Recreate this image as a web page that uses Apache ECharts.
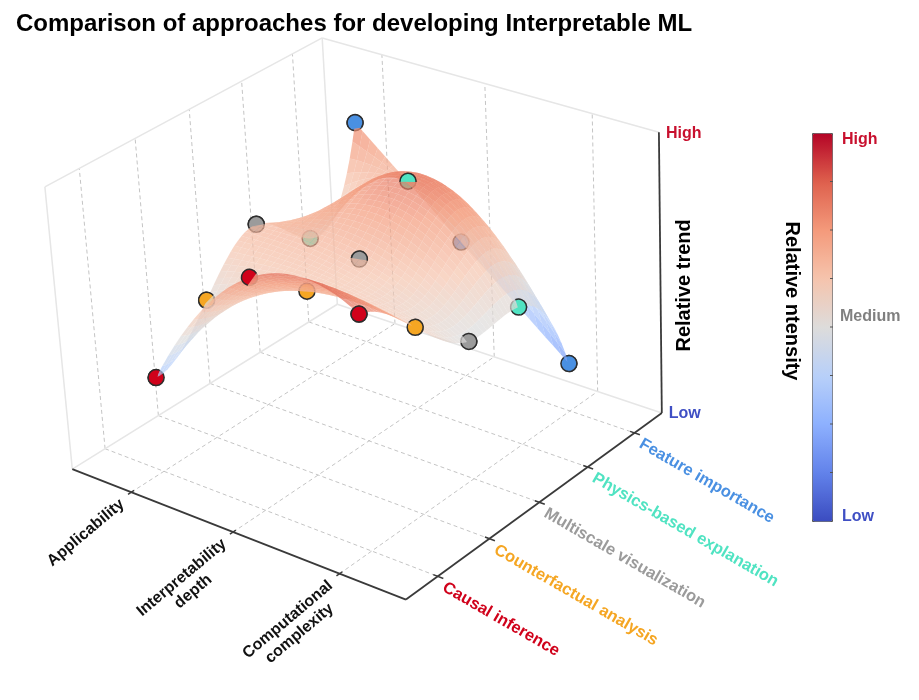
<!DOCTYPE html>
<html><head><meta charset="utf-8">
<script src="https://cdn.jsdelivr.net/npm/echarts@6/dist/echarts.min.js"></script>
<style>html,body{margin:0;padding:0;background:#fff}#chart{width:919px;height:700px}</style>
</head><body><div id="chart"></div>
<script>
// ---------------- data ----------------
const categories = ['Applicability', 'Interpretability\ndepth', 'Computational\ncomplexity'];
const methods = ['Causal inference', 'Counterfactual analysis', 'Multiscale visualization', 'Physics-based explanation', 'Feature importance'];
const causalInference = [0.34, 0.815, 0.815];
const counterfactualAnalysis = [0.50, 0.655, 0.655];
const multiscaleVisualization = [0.66, 0.655, 0.49];
const physicsBasedExplanation = [0.50, 0.82, 0.495];
const featureImportance = [0.815, 0.495, 0.175];
const trendTicks = ['Low', 'High'];          // relative trend axis: 0 .. 1
const intensityTicks = ['Low', 'Medium', 'High'];

// ---------------- styles ----------------
const values = [causalInference, counterfactualAnalysis, multiscaleVisualization, physicsBasedExplanation, featureImportance];
const methodColors = ['#D0021B', '#F5A623', '#9B9B9B', '#50E3C2', '#4A90E2'];
const coolwarm = ['#3b4cc0', '#6282ea', '#8db0fe', '#b8d0f9', '#dddcdb', '#f5c4ad', '#f49a7b', '#de604d', '#b40426'];
const FONT = '"Liberation Sans", Arial, Helvetica, sans-serif';
const nX = categories.length, nY = methods.length;
const PAD = 0.6;
const X0 = -PAD, X1 = nX - 1 + PAD, Y0 = -PAD, Y1 = nY - 1 + PAD;
const Z_MIN = 0, Z_MAX = 1;
const SURF_OPACITY = 0.7, MARKER_R = 8;

function gauss(A, b) {
  const n = b.length; const M = A.map((r, i) => r.slice().concat([b[i]]));
  for (let c = 0; c < n; c++) {
    let p = c;
    for (let r = c + 1; r < n; r++) if (Math.abs(M[r][c]) > Math.abs(M[p][c])) p = r;
    const tmp = M[c]; M[c] = M[p]; M[p] = tmp;
    for (let r = 0; r < n; r++) {
      if (r === c) continue;
      const f = M[r][c] / M[c][c];
      for (let k = c; k <= n; k++) M[r][k] -= f * M[c][k];
    }
  }
  return M.map((r, i) => r[n] / r[i]);
}
// camera of the 3D box, calibrated on the box corners and axis ticks of the view
const calib = [
  [X0, Y0, 0, 72, 470], [X1, Y0, 0, 406, 600], [X1, Y1, 0, 661, 413], [X0, Y1, 0, 337, 304],
  [X0, Y0, 1, 45, 187], [X0, Y1, 1, 322, 38], [X1, Y1, 1, 659, 132],
  [0, Y0, 0, 130, 491], [1, Y0, 0, 233, 532], [2, Y0, 0, 341, 574],
  [X1, 0, 0, 437.5, 576], [X1, 1, 0, 489, 538], [X1, 2, 0, 539, 502], [X1, 3, 0, 588, 468], [X1, 4, 0, 635, 433],
  [X0, 0, 0, 107, 448], [X0, 1, 0, 157, 417], [X0, 2, 0, 210, 383], [X0, 3, 0, 260, 352], [X0, 4, 0, 310, 322]
];
function solveCamera(pts) {
  const A = [], b = [];
  for (const [X, Y, Z, u, v] of pts) {
    const U = (u - 460) / 300, V = (v - 350) / 300;
    A.push([X, Y, Z, 1, 0, 0, 0, 0, -U * X, -U * Y, -U * Z]); b.push(U);
    A.push([0, 0, 0, 0, X, Y, Z, 1, -V * X, -V * Y, -V * Z]); b.push(V);
  }
  const n = 11, N = [], r = [];
  for (let i = 0; i < n; i++) { N.push(new Array(n).fill(0)); r.push(0); }
  for (let k = 0; k < A.length; k++) for (let i = 0; i < n; i++) {
    r[i] += A[k][i] * b[k];
    for (let j = 0; j < n; j++) N[i][j] += A[k][i] * A[k][j];
  }
  return gauss(N, r);
}
const P = solveCamera(calib);
function proj(x, y, z) {
  const w = P[8] * x + P[9] * y + P[10] * z + 1;
  return [(P[0] * x + P[1] * y + P[2] * z + P[3]) / w * 300 + 460, (P[4] * x + P[5] * y + P[6] * z + P[7]) / w * 300 + 350, w];
}
const CAM = gauss([[P[0], P[1], P[2]], [P[4], P[5], P[6]], [P[8], P[9], P[10]]], [-P[3], -P[7], -1]);

// smooth surface through the grid values (quadratic across categories, cubic spline across methods)
function splineM(ys) {
  const n = ys.length, A = [], b = [];
  for (let i = 0; i < n; i++) A.push(new Array(n).fill(0));
  A[0][0] = 1; A[0][1] = -2; A[0][2] = 1; b[0] = 0;
  for (let i = 1; i < n - 1; i++) { A[i][i - 1] = 1; A[i][i] = 4; A[i][i + 1] = 1; b[i] = 6 * (ys[i + 1] - 2 * ys[i] + ys[i - 1]); }
  A[n - 1][n - 3] = 1; A[n - 1][n - 2] = -2; A[n - 1][n - 1] = 1; b[n - 1] = 0;
  return gauss(A, b);
}
function splineEval(ys, M, y) {
  const n = ys.length; const k = Math.max(0, Math.min(Math.floor(y), n - 2)); const t = y - k;
  return (1 - t) * ys[k] + t * ys[k + 1] + (Math.pow(1 - t, 3) - (1 - t)) * M[k] / 6 + (t * t * t - t) * M[k + 1] / 6;
}
const cols = []; for (let i = 0; i < nX; i++) cols.push(values.map(r => r[i]));
const colM = cols.map(splineM);
function lagrange(i, x) { let v = 1; for (let k = 0; k < nX; k++) if (k !== i) v *= (x - k) / (i - k); return v; }
function surf(x, y) { let s = 0; for (let i = 0; i < nX; i++) s += lagrange(i, x) * splineEval(cols[i], colM[i], y); return s; }

const cwRgb = coolwarm.map(h => [parseInt(h.slice(1, 3), 16), parseInt(h.slice(3, 5), 16), parseInt(h.slice(5, 7), 16)]);
function cmap(z) {
  let t = (z - Z_MIN) / (Z_MAX - Z_MIN); t = Math.max(0, Math.min(1, t));
  const s = t * (cwRgb.length - 1); const k = Math.min(Math.floor(s), cwRgb.length - 2); const f = s - k;
  const a = cwRgb[k], b = cwRgb[k + 1];
  return 'rgb(' + Math.round(a[0] + (b[0] - a[0]) * f) + ',' + Math.round(a[1] + (b[1] - a[1]) * f) + ',' + Math.round(a[2] + (b[2] - a[2]) * f) + ')';
}

// is a 3D point hidden by the surface as seen from the camera
function rayHidden(bx, by, bz) {
  const d = [CAM[0] - bx, CAM[1] - by, CAM[2] - bz]; const L = Math.hypot(d[0], d[1], d[2]);
  const dn = d.map(v => v / L); let inside = false;
  for (let t = 0; t < Math.min(L, 8); t += 0.01) {
    const px = bx + dn[0] * t, py = by + dn[1] * t, pz = bz + dn[2] * t;
    if (px < 0 || px > nX - 1 || py < 0 || py > nY - 1) { if (inside || t > 0.3) return false; continue; }
    inside = true;
    if (surf(px, py) > pz + 0.002) return true;
  }
  return false;
}
function cross(a, b) { return [a[1] * b[2] - a[2] * b[1], a[2] * b[0] - a[0] * b[2], a[0] * b[1] - a[1] * b[0]]; }
function norm(a) { const l = Math.hypot(a[0], a[1], a[2]); return a.map(v => v / l); }
// visible part of a marker (marker drawn as a camera-facing disk)
function markerVisibility(i, j, z) {
  const v = norm([CAM[0] - i, CAM[1] - j, CAM[2] - z]);
  const e1 = norm(cross(v, [0, 0, 1])), e2 = norm(cross(e1, v));
  const c = proj(i, j, z), eps = 1e-3;
  const pa = proj(i + e1[0] * eps, j + e1[1] * eps, z + e1[2] * eps), pb = proj(i + e2[0] * eps, j + e2[1] * eps, z + e2[2] * eps);
  const a = [(pa[0] - c[0]) / eps, (pa[1] - c[1]) / eps], b = [(pb[0] - c[0]) / eps, (pb[1] - c[1]) / eps];
  const det = a[0] * b[1] - a[1] * b[0];
  const samples = [[0, 0, 0.3]];
  [2.5, 5, 7.2].forEach(r => { for (let k = 0; k < 20; k++) { const th = 2 * Math.PI * k / 20; samples.push([r * Math.cos(th), r * Math.sin(th), r]); } });
  let hw = 0, tw = 0; const hid = [0, 0], vis = [0, 0];
  samples.forEach(([px, py, w]) => {
    const al = (px * b[1] - py * b[0]) / det, be = (a[0] * py - a[1] * px) / det;
    const h = rayHidden(i + al * e1[0] + be * e2[0], j + al * e1[1] + be * e2[1], z + al * e1[2] + be * e2[2]);
    tw += w;
    if (h) { hw += w; hid[0] += px * w; hid[1] += py * w; } else { vis[0] += px * w; vis[1] += py * w; }
  });
  const frac = hw / tw;
  if (frac < 0.06) return { mode: 'full' };
  if (frac > 0.94) return { mode: 'hidden' };
  const m = [hid[0] / hw - vis[0] / (tw - hw), hid[1] / hw - vis[1] / (tw - hw)];
  const mu = Math.atan2(m[1], m[0]);
  let lo = -1, hi = 1;
  for (let it = 0; it < 40; it++) {
    const s = (lo + hi) / 2; const f = (Math.acos(s) - s * Math.sqrt(1 - s * s)) / Math.PI;
    if (f > frac) lo = s; else hi = s;
  }
  return { mode: 'part', mu: mu, alpha: Math.acos((lo + hi) / 2) };
}

// ---------------- series data ----------------
const frameLines = [];
for (let i = 0; i < nX; i++) frameLines.push([i, Y0, 0, i, Y1, 0, 0]);
for (let j = 0; j < nY; j++) frameLines.push([X0, j, 0, X1, j, 0, 0]);
for (let j = 0; j < nY; j++) frameLines.push([X0, j, 0, X0, j, 1, 0]);
for (let i = 0; i < nX; i++) frameLines.push([i, Y1, 0, i, Y1, 1, 0]);
frameLines.push([X0, Y0, 0, X0, Y1, 0, 1], [X0, Y1, 0, X1, Y1, 0, 1], [X0, Y0, 0, X0, Y0, 1, 1],
  [X0, Y1, 0, X0, Y1, 1, 1], [X0, Y0, 1, X0, Y1, 1, 1], [X0, Y1, 1, X1, Y1, 1, 1]);
frameLines.push([X0, Y0, 0, X1, Y0, 0, 2], [X1, Y0, 0, X1, Y1, 0, 2], [X1, Y1, 0, X1, Y1, 1, 2]);
for (let i = 0; i < nX; i++) frameLines.push([i, Y0 - 0.06, 0, i, Y0 + 0.05, 0, 3]);
for (let j = 0; j < nY; j++) frameLines.push([X1 - 0.04, j, 0, X1 + 0.05, j, 0, 3]);
const lineStyles = [
  { stroke: '#c4c4c4', lineWidth: 1, lineDash: [4, 3] },
  { stroke: '#e6e6e6', lineWidth: 1.5 },
  { stroke: '#3a3a3a', lineWidth: 1.8 },
  { stroke: '#3a3a3a', lineWidth: 1.5 }
];
const pts = [];
values.forEach((row, j) => row.forEach((z, i) => pts.push([i, j, z, proj(i, j, z)[2]])));
pts.sort((a, b) => b[3] - a[3]);
const visInfo = pts.map(p => markerVisibility(p[0], p[1], p[2]));

const cells = [];
for (let i = 0; i < nX - 1; i++) for (let j = 0; j < nY - 1; j++) {
  const zc = surf(i + 0.5, j + 0.5);
  cells.push([i, j, zc, proj(i + 0.5, j + 0.5, zc)[2]]);
}
cells.sort((a, b) => b[3] - a[3]);
const labelItems = [];
categories.forEach((c, i) => labelItems.push([0, i]));
methods.forEach((m, j) => labelItems.push([1, j]));
trendTicks.forEach((t, k) => labelItems.push([2, k]));
labelItems.push([3, 0]);

// ---------------- renderers ----------------
const measureCtx = document.createElement('canvas').getContext('2d');
function measure(text, font) { measureCtx.font = font; return measureCtx.measureText(text).width; }
const catFont = 'bold 16px ' + FONT, methFont = 'bold 16.5px ' + FONT, tickFont = 'bold 16px ' + FONT, nameFont = 'bold 20px ' + FONT;
const LH = 18;
function frameRender(params, api) {
  const a = proj(api.value(0), api.value(1), api.value(2)), b = proj(api.value(3), api.value(4), api.value(5));
  const ca = api.coord([a[0], a[1]]), cb = api.coord([b[0], b[1]]);
  return { type: 'line', silent: true, shape: { x1: ca[0], y1: ca[1], x2: cb[0], y2: cb[1] }, style: Object.assign({}, lineStyles[api.value(6)]) };
}
function pointBackRender(params, api) {
  const i = api.value(0), j = api.value(1), z = api.value(2);
  const p = proj(i, j, z); const c = api.coord([p[0], p[1]]);
  return { type: 'circle', shape: { cx: c[0], cy: c[1], r: MARKER_R }, style: { fill: methodColors[j], stroke: '#2d2d2d', lineWidth: 1.5 } };
}
function pointFrontRender(params, api) {
  const i = api.value(0), j = api.value(1), z = api.value(2);
  const p = proj(i, j, z); const c = api.coord([p[0], p[1]]);
  const info = visInfo[params.dataIndex];
  if (info.mode === 'hidden') return null;
  if (info.mode === 'full') return { type: 'circle', shape: { cx: c[0], cy: c[1], r: MARKER_R }, style: { fill: methodColors[j], stroke: '#2d2d2d', lineWidth: 1.5 } };
  const a0 = info.mu + info.alpha, a1 = info.mu + 2 * Math.PI - info.alpha;
  const poly = [];
  for (let k = 0; k <= 40; k++) { const th = a0 + (a1 - a0) * k / 40; poly.push([c[0] + MARKER_R * Math.cos(th), c[1] + MARKER_R * Math.sin(th)]); }
  return {
    type: 'group', children: [
      { type: 'polygon', shape: { points: poly }, style: { fill: methodColors[j] } },
      { type: 'arc', shape: { cx: c[0], cy: c[1], r: MARKER_R, startAngle: a0, endAngle: a1, clockwise: true }, style: { stroke: '#2d2d2d', lineWidth: 1.5, fill: null } }
    ]
  };
}
const SUB = 14;
function surfRender(params, api) {
  const ci = api.value(0), cj = api.value(1);
  const quads = [];
  for (let a = 0; a < SUB; a++) for (let b = 0; b < SUB; b++) {
    const xs = [ci + a / SUB, ci + (a + 1) / SUB], ys = [cj + b / SUB, cj + (b + 1) / SUB];
    const corners = [[xs[0], ys[0]], [xs[1], ys[0]], [xs[1], ys[1]], [xs[0], ys[1]]];
    let zs = 0, ws = 0; const ptsq = [];
    corners.forEach(([x, y]) => { const z = surf(x, y); zs += z; const p = proj(x, y, z); ws += p[2]; ptsq.push(api.coord([p[0], p[1]])); });
    quads.push({ pts: ptsq, z: zs / 4, w: ws / 4 });
  }
  quads.sort((p, q) => q.w - p.w);
  return {
    type: 'group', children: quads.map(q => ({
      type: 'polygon', silent: true, shape: { points: q.pts }, style: { fill: cmap(q.z), opacity: SURF_OPACITY }
    }))
  };
}
function labelRender(params, api) {
  const kind = api.value(0), k = api.value(1);
  if (kind === 0) {
    const t = proj(k, Y0, 0); const c = api.coord([t[0], t[1]]);
    const th = 40 * Math.PI / 180; const d = [Math.cos(th), -Math.sin(th)], n = [Math.sin(th), Math.cos(th)];
    const lines = categories[k].split('\n'); const w1 = measure(lines[0], catFont);
    const R = [c[0] - 9, c[1] + 10];
    const A = [R[0] - d[0] * w1 / 2 - n[0] * LH / 2, R[1] - d[1] * w1 / 2 - n[1] * LH / 2];
    return { type: 'text', x: A[0], y: A[1], rotation: th, style: { text: categories[k], align: 'center', verticalAlign: 'top', font: catFont, fill: '#111', lineHeight: LH } };
  }
  if (kind === 1) {
    const t = proj(X1, k, 0); const c = api.coord([t[0], t[1]]);
    return { type: 'text', x: c[0] + 6, y: c[1] + 10, rotation: -30 * Math.PI / 180, style: { text: methods[k], align: 'left', verticalAlign: 'middle', font: methFont, fill: methodColors[k] } };
  }
  if (kind === 2) {
    const t = proj(X1, Y1, k); const c = api.coord([t[0], t[1]]);
    return { type: 'text', x: c[0] + 7, y: c[1] + 1, style: { text: trendTicks[k], align: 'left', verticalAlign: 'middle', font: tickFont, fill: k === 0 ? '#3f4fc4' : '#c8102e' } };
  }
  const t = proj(X1, Y1, 0.5); const c = api.coord([t[0], t[1]]);
  return { type: 'text', x: c[0] + 24, y: c[1] + 10, rotation: Math.PI / 2, style: { text: 'Relative trend', align: 'center', verticalAlign: 'middle', font: nameFont, fill: '#000' } };
}

// colour bar decorations
const BAR = { x: 812, y: 133, w: 20, h: 388 };
const barTicks = [];
for (let k = 1; k < 8; k++) barTicks.push({ type: 'line', silent: true, shape: { x1: BAR.x + BAR.w - 2, y1: BAR.y + BAR.h * k / 8, x2: BAR.x + BAR.w + 1, y2: BAR.y + BAR.h * k / 8 }, style: { stroke: '#555', lineWidth: 1 }, z: 100 });

const chart = echarts.init(document.getElementById('chart'));
chart.setOption({
  animation: false,
  title: { text: 'Comparison of approaches for developing Interpretable ML', left: 11, top: 7, textStyle: { fontSize: 24, fontWeight: 'bold', color: '#000', fontFamily: FONT } },
  grid: { left: 0, right: 0, top: 0, bottom: 0 },
  xAxis: { type: 'value', min: 0, max: 919, show: false },
  yAxis: { type: 'value', min: 0, max: 700, inverse: true, show: false },
  visualMap: {
    type: 'continuous', min: Z_MIN, max: Z_MAX, orient: 'vertical', left: BAR.x, top: BAR.y, itemWidth: BAR.w, itemHeight: BAR.h,
    padding: 0, calculable: false, seriesIndex: 2, dimension: 2, inRange: { color: coolwarm }, borderColor: '#555', borderWidth: 1
  },
  graphic: [
    { type: 'text', x: 842, y: 517, style: { text: intensityTicks[0], font: tickFont, fill: '#3f4fc4', verticalAlign: 'middle' } },
    { type: 'text', x: 840, y: 317, style: { text: intensityTicks[1], font: tickFont, fill: '#808080', verticalAlign: 'middle' } },
    { type: 'text', x: 842, y: 140, style: { text: intensityTicks[2], font: tickFont, fill: '#c8102e', verticalAlign: 'middle' } },
    { type: 'text', x: 792, y: 301, rotation: -Math.PI / 2, style: { text: 'Relative ntensity', font: nameFont, fill: '#000', align: 'center', verticalAlign: 'middle' } }
  ].concat(barTicks),
  series: [
    { type: 'custom', name: 'frame', renderItem: frameRender, data: frameLines, z: 1, silent: true },
    { type: 'custom', name: 'markers', renderItem: pointBackRender, data: pts, z: 2 },
    { type: 'custom', name: 'surface', renderItem: surfRender, data: cells, z: 3, silent: true },
    { type: 'custom', name: 'markersFront', renderItem: pointFrontRender, data: pts, z: 4 },
    { type: 'custom', name: 'labels', renderItem: labelRender, data: labelItems, z: 5, silent: true }
  ]
});
</script></body></html>
